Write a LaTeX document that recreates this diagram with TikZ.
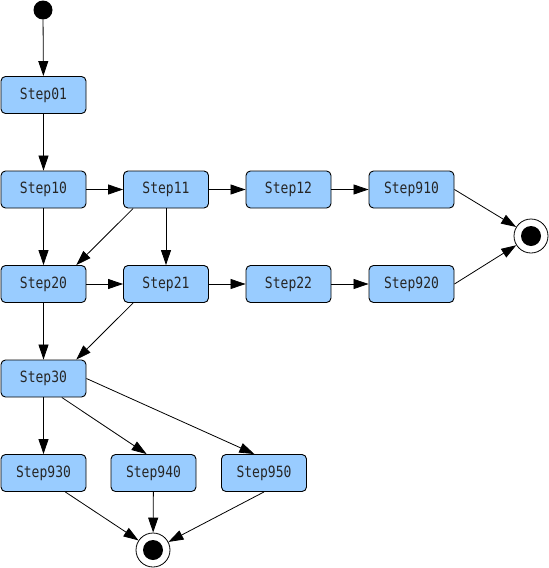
\documentclass[tikz,border=0pt]{standalone}
\usepackage{fontspec}
\newfontfamily\stepfont[FakeStretch=0.84]{DejaVu Sans Mono}
\definecolor{stepBlue}{RGB}{153,204,255}
\usetikzlibrary{arrows.meta,positioning,calc}

\begin{document}
\begin{tikzpicture}[x=1pt, y=-1pt,
    stepbox/.style={draw, fill=stepBlue, rounded corners=4.5pt, line width=0.9pt,
      minimum width=85pt, minimum height=37pt, inner sep=0pt,
      text=black!85, font=\stepfont\fontsize{15.5}{15.5}\selectfont},
    initst/.style={circle, fill=black, minimum size=19pt, inner sep=0pt},
    finalst/.style={circle, draw, fill=white, line width=0.8pt, minimum size=34pt, inner sep=0pt,
      path picture={\fill[black] (path picture bounding box.center) circle (10pt);}},
    arr/.style={-{Triangle[length=15pt,width=10pt]}, line width=0.8pt}]
    % page
    \useasboundingbox (0,0) rectangle (549,568);

    % start and end points
    \node[initst] (init) at (43,10) {};
    \node[finalst] (fin1) at (531,236) {};
    \node[finalst] (fin2) at (153,550) {};

    % states, row by row
    \node[stepbox] (s01) at (43.5,95) {Step01};
    \node[stepbox] (s10) at (43.5,189.5) {Step10};
    \node[stepbox] (s11) at (166,189.5) {Step11};
    \node[stepbox] (s12) at (288.5,189.5) {Step12};
    \node[stepbox] (s910) at (411.5,189.5) {Step910};
    \node[stepbox] (s20) at (43.5,284) {Step20};
    \node[stepbox] (s21) at (166,284) {Step21};
    \node[stepbox] (s22) at (288.5,284) {Step22};
    \node[stepbox] (s920) at (411.5,284) {Step920};
    \node[stepbox] (s30) at (43.5,378.5) {Step30};
    \node[stepbox] (s930) at (43.5,473) {Step930};
    \node[stepbox] (s940) at (153.5,473) {Step940};
    \node[stepbox] (s950) at (264,473) {Step950};

    % transitions
    \draw[arr] (init) -- (s01);
    \draw[arr] (s01) -- (s10);
    \draw[arr] (s10) -- (s11);
    \draw[arr] (s11) -- (s12);
    \draw[arr] (s12) -- (s910);
    \draw[arr] (s910.east) -- (fin1);
    \draw[arr] (s10) -- (s20);
    \draw[arr] (s11.210) -- (s20.30);
    \draw[arr] (s11) -- (s21);
    \draw[arr] (s20) -- (s21);
    \draw[arr] (s21) -- (s22);
    \draw[arr] (s22) -- (s920);
    \draw[arr] (s920.east) -- (fin1);
    \draw[arr] (s20) -- (s30);
    \draw[arr] (s21.210) -- (s30.30);
    \draw[arr] (s30) -- (s930);
    \draw[arr] (s30.-46) -- (s940.110);
    \draw[arr] (s30.east) -- (s950.117);
    \draw[arr] (s930.-41) -- (fin2);
    \draw[arr] (s940) -- (fin2);
    \draw[arr] (s950.south) -- (fin2);
\end{tikzpicture}
\end{document}
